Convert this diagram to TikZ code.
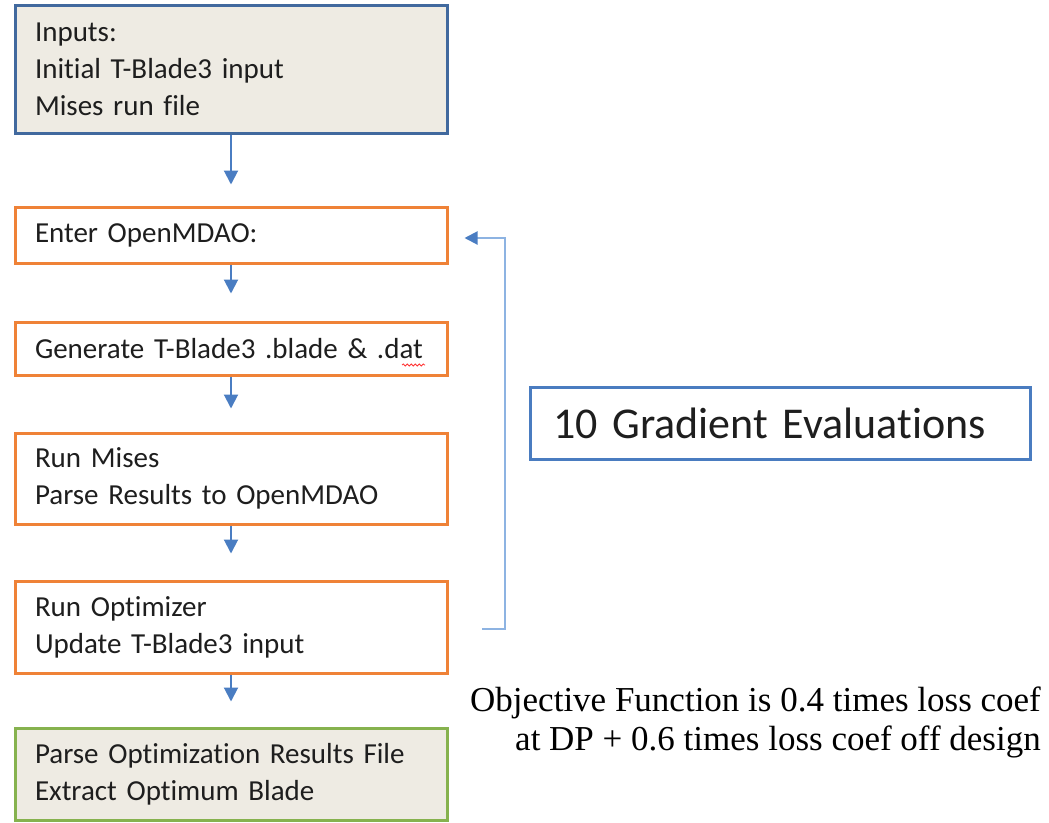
\documentclass[tikz,border=0pt]{standalone}
\usepackage{fontspec}
\setmainfont{Carlito}[Ligatures={NoCommon}]
\newfontfamily\serifx{Liberation Serif}
\usetikzlibrary{arrows.meta,decorations.pathmorphing}
\definecolor{beige}{HTML}{EEEBE3}
\definecolor{bdblue}{HTML}{41699E}
\definecolor{orng}{HTML}{EF8237}
\definecolor{grn}{HTML}{86B24E}
\definecolor{gblue}{HTML}{4A7CC0}
\definecolor{arrblue}{HTML}{4A7DC2}
\definecolor{fbblue}{HTML}{8DB3E2}
\definecolor{txt}{HTML}{1E1E1E}
\tikzset{
  stepbox/.style={draw=orng, line width=3pt, fill=white, text=txt,
    text width=392pt, inner xsep=20pt, align=left,
    font=\fontsize{29}{37}\selectfont},
  inbox/.style={stepbox, draw=bdblue, fill=beige},
  outbox/.style={stepbox, draw=grn, fill=beige},
  darr/.style={draw=arrblue, line width=2pt, -{Triangle[width=14pt,length=14pt]}},
  fbarr/.style={draw=fbblue, line width=2pt, -{Triangle[width=13pt,length=13pt,color=arrblue]}},
}
\begin{document}
\begin{tikzpicture}[x=1pt,y=-1pt]
\useasboundingbox (0,0) rectangle (1049,822);
\node[inbox, minimum height=128pt] (b1) at (231,69) {Inputs:\\Initial T-Blade3 input\\Mises run file};
\node[stepbox, minimum height=56pt] (b2) at (231,235) {Enter OpenMDAO:};
\node[stepbox, minimum height=53pt] (b3) at (231,348.5) {\mbox{Generate T-Blade3 .blade \& .dat}};
\node[stepbox, minimum height=91pt] (b4) at (231,478.5) {Run Mises\\Parse Results to OpenMDAO};
\node[stepbox, minimum height=92pt] (b5) at (231,627) {Run Optimizer\\Update T-Blade3 input};
\node[outbox, minimum height=92pt] (b6) at (231,774) {Parse Optimization Results File\\Extract Optimum Blade};

\draw[red!80, line width=0.8pt, decorate, decoration={snake, amplitude=1pt, segment length=4pt}] (402,365) -- (425,365);

\draw[darr, shorten >=21pt] (b1.south) -- (b2.north);
\draw[darr, shorten >=27pt] (b2.south) -- (b3.north);
\draw[darr, shorten >=23pt] (b3.south) -- (b4.north);
\draw[darr, shorten >=26pt] (b4.south) -- (b5.north);
\draw[darr, shorten >=25pt] (b5.south) -- (b6.north);

\coordinate (fs) at (482,629);
\draw[fbarr, shorten >=16pt] (fs) -- ++(23,0) |- ([yshift=-3pt]b2.east);

\node[draw=gblue, line width=3pt, text=txt, minimum width=500pt, minimum height=72pt,
  text width=454pt, inner xsep=23pt, align=left, font=\fontsize{44}{50}\selectfont]
  (grad) at (780,423) {10 Gradient Evaluations};

\node[anchor=east, align=right, inner sep=0pt, text=black,
  font=\serifx\fontsize{35}{39}\selectfont] (obj) at (1041,722.5)
  {Objective Function is 0.4 times loss coef\\at DP + 0.6 times loss coef off design};
\end{tikzpicture}
\end{document}
